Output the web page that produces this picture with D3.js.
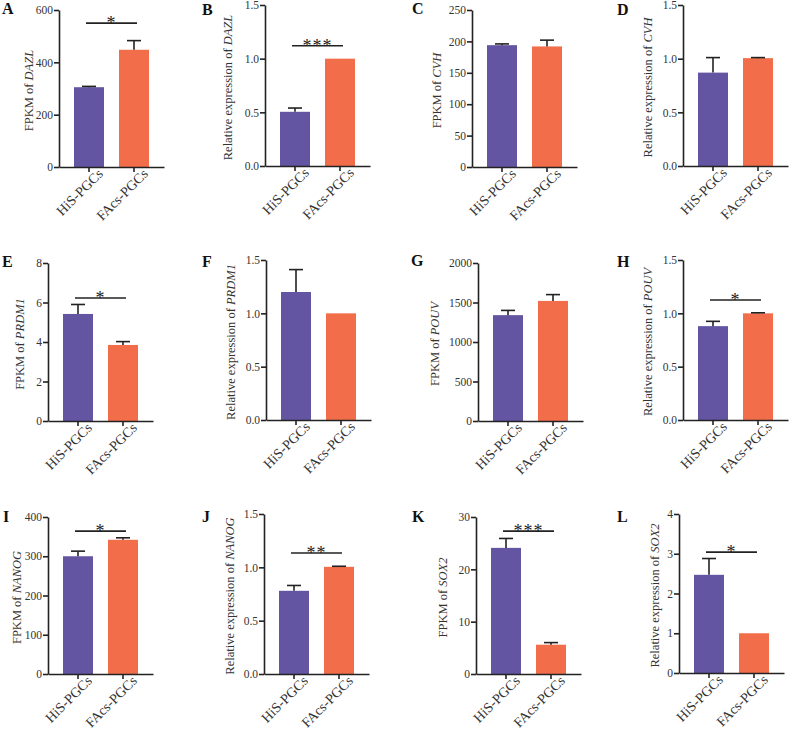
<!DOCTYPE html>
<html>
<head>
<meta charset="utf-8">
<style>
  body { margin: 0; background: #fff; }
  svg { font-family: "Liberation Serif", "Times New Roman", serif; }
</style>
</head>
<body>
<div id="container"></div>
<script src="https://d3js.org/d3.v7.min.js"></script>
<script>
  // ---- data ----
  const groups = ["HiS-PGCs", "FAcs-PGCs"];
  const letters = ["A", "B", "C", "D", "E", "F", "G", "H", "I", "J", "K", "L"];
  const genes = ["DAZL", "DAZL", "CVH", "CVH", "PRDM1", "PRDM1", "POUV", "POUV", "NANOG", "NANOG", "SOX2", "SOX2"];
  const measures = ["FPKM of ", "Relative expression of ", "FPKM of ", "Relative expression of ",
                    "FPKM of ", "Relative expression of ", "FPKM of ", "Relative expression of ",
                    "FPKM of ", "Relative expression of ", "FPKM of ", "Relative expression of "];
  const hisMeans  = [305, 0.505, 194, 0.87, 5.42, 1.2, 1340, 0.88, 300, 0.78, 24.1, 2.47];
  const hisErr    = [3, 0.035, 2, 0.14, 0.48, 0.21, 60, 0.045, 13, 0.05, 1.8, 0.41];
  const facsMeans = [448, 1.0, 192, 1.005, 3.85, 1.0, 1520, 1.0, 342, 1.005, 5.6, 1.0];
  const facsErr   = [35, 0, 10, 0.005, 0.17, 0, 80, 0.005, 5, 0.005, 0.4, 0];
  const yMax = [600, 1.5, 250, 1.5, 8, 1.5, 2000, 1.5, 400, 1.5, 30, 4];
  const yTicks = [
    [0, 200, 400, 600], [0, 0.5, 1, 1.5], [0, 50, 100, 150, 200, 250], [0, 0.5, 1, 1.5],
    [0, 2, 4, 6, 8], [0, 0.5, 1, 1.5], [0, 500, 1000, 1500, 2000], [0, 0.5, 1, 1.5],
    [0, 100, 200, 300, 400], [0, 0.5, 1, 1.5], [0, 10, 20, 30], [0, 1, 2, 3, 4]
  ];
  const sigLabels = ["*", "***", "", "", "*", "", "", "*", "*", "**", "***", "*"];
  const sigLevels = [550, 1.12, null, null, 6.23, null, null, 1.125, 364, 1.134, 27.3, 3.04];

  // ---- layout (pixel positions of each panel) ----
  const axisX = [59, 265, 472, 683, 48, 266, 478, 683, 48, 264, 476, 679];
  const topY  = [10, 5, 10, 5, 263, 260, 263, 260, 517, 514, 517, 514];
  const baseY = [167, 166, 167, 166, 421, 420, 421, 420, 674, 674, 674, 673];
  const labelOff = [30, 37, 35, 35, 28, 35, 43, 35, 31, 34, 33, 24];
  const letterX = [2, 202, 412, 617, 2, 202, 411, 617, 3, 202, 412, 617];
  const letterY = [14, 15, 14, 15, 267, 267, 266, 267, 522, 522, 522, 522];
  const xLen = 105;
  const colors = ["#6455a3", "#f26e4b"];

  const svg = d3.select("#container").append("svg")
    .attr("width", 791)
    .attr("height", 732);

  letters.forEach((letter, i) => {
    const g = svg.append("g");
    const x = d3.scaleBand().domain(groups)
      .range([axisX[i], axisX[i] + xLen])
      .paddingInner(1 / 3).paddingOuter(1 / 3);
    const y = d3.scaleLinear().domain([0, yMax[i]]).range([baseY[i], topY[i]]);
    const fmt = yMax[i] === 1.5 ? d3.format(".1f") : d3.format("d");

    const rows = [
      { grp: groups[0], v: hisMeans[i], e: hisErr[i], c: colors[0] },
      { grp: groups[1], v: facsMeans[i], e: facsErr[i], c: colors[1] }
    ];

    // bars
    g.selectAll("rect.bar").data(rows).join("rect")
      .attr("class", "bar")
      .attr("x", d => x(d.grp))
      .attr("width", x.bandwidth())
      .attr("y", d => y(d.v))
      .attr("height", d => y(0) - y(d.v))
      .attr("fill", d => d.c);

    // error bars (upper only)
    const cap = 7;
    rows.forEach(d => {
      if (d.e <= 0) return;
      const cx = x(d.grp) + x.bandwidth() / 2;
      g.append("line")
        .attr("x1", cx).attr("x2", cx)
        .attr("y1", y(d.v)).attr("y2", y(d.v + d.e))
        .attr("stroke", "#222").attr("stroke-width", 1.6);
      g.append("line")
        .attr("x1", cx - cap).attr("x2", cx + cap)
        .attr("y1", y(d.v + d.e)).attr("y2", y(d.v + d.e))
        .attr("stroke", "#222").attr("stroke-width", 1.6);
    });

    // axes
    const yAxis = g.append("g")
      .attr("transform", `translate(${axisX[i]},0)`)
      .call(d3.axisLeft(y).tickValues(yTicks[i]).tickFormat(fmt).tickSize(5).tickSizeOuter(0));
    const xAxis = g.append("g")
      .attr("transform", `translate(0,${baseY[i]})`)
      .call(d3.axisBottom(x).tickSize(5).tickSizeOuter(0));

    [yAxis, xAxis].forEach(a => {
      a.attr("font-family", null);
      a.select(".domain").attr("stroke", "#222").attr("stroke-width", 1.6);
      a.selectAll(".tick line").attr("stroke", "#222").attr("stroke-width", 1.6);
      a.selectAll("text")
        .attr("font-family", "'Liberation Serif', serif")
        .attr("fill", "#333");
    });
    yAxis.selectAll("text").attr("x", -6).attr("font-size", 11.5);
    xAxis.selectAll("text")
      .attr("font-size", 14)
      .attr("text-anchor", "end")
      .attr("x", 5).attr("y", 11).attr("dy", "0.35em")
      .attr("transform", "rotate(-45)");

    // y label with italic gene name
    const midY = (topY[i] + baseY[i]) / 2;
    const lab = g.append("text")
      .attr("transform", `translate(${axisX[i] - labelOff[i]},${midY + 2}) rotate(-90)`)
      .attr("text-anchor", "middle")
      .attr("dy", "0.35em")
      .attr("font-size", 12.5)
      .attr("fill", "#333");
    lab.append("tspan").text(measures[i]);
    lab.append("tspan").attr("font-style", "italic").text(genes[i]);

    // significance
    if (sigLabels[i]) {
      const ly = y(sigLevels[i]);
      const x1 = x(groups[0]) + x.bandwidth() / 2 - 3;
      const x2 = x(groups[1]) + x.bandwidth() / 2 + 3;
      g.append("line")
        .attr("x1", x1).attr("x2", x2)
        .attr("y1", ly).attr("y2", ly)
        .attr("stroke", "#222").attr("stroke-width", 1.6);
      g.append("text")
        .attr("x", (x1 + x2) / 2)
        .attr("y", ly + 6)
        .attr("text-anchor", "middle")
        .attr("font-size", 18)
        .attr("letter-spacing", 1)
        .attr("fill", "#222")
        .text(sigLabels[i]);
    }

    // panel letter
    svg.append("text")
      .attr("x", letterX[i]).attr("y", letterY[i])
      .attr("font-size", 16)
      .attr("font-weight", "bold")
      .attr("fill", "#111")
      .text(letter);
  });
</script>
</body>
</html>
